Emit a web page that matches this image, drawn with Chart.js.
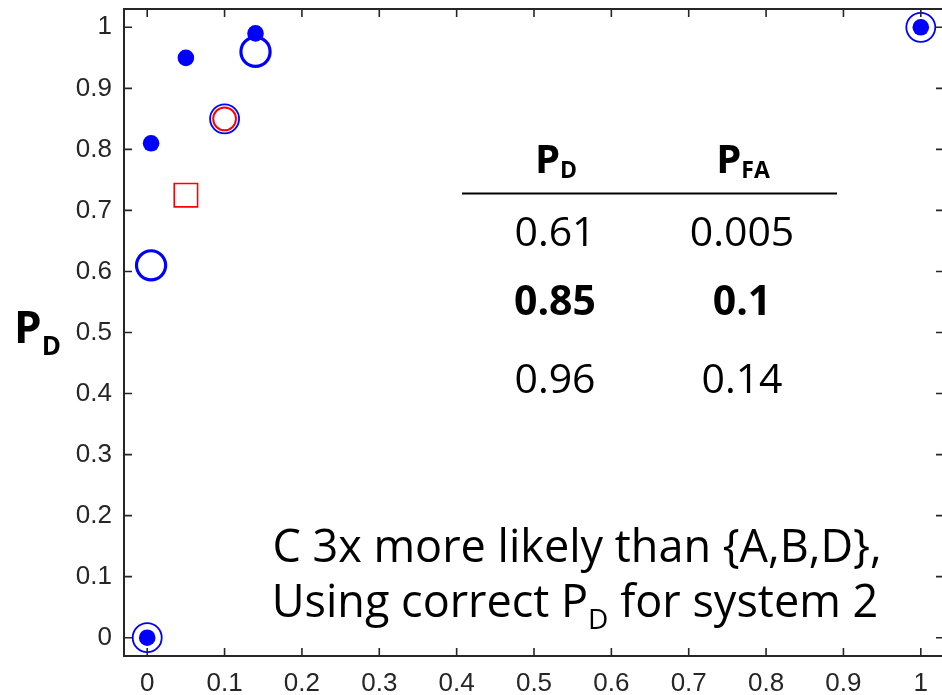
<!DOCTYPE html>
<html>
<head>
<meta charset="utf-8">
<script src="https://cdn.jsdelivr.net/npm/chart.js@4.4.1/dist/chart.umd.min.js"></script>
<style>
  html, body { margin: 0; padding: 0; background: #fff; overflow: hidden; }
  #wrap { width: 942px; height: 695px; overflow: hidden; }
</style>
</head>
<body>
<div id="wrap"><canvas id="roc" width="946" height="695"></canvas></div>
<script>
// detector operating points, x = P_FA, y = P_D
var dotPfa = [0, 0.005, 0.05, 0.14, 1];
var dotPd  = [0, 0.81, 0.95, 0.99, 1];

// system 2 points listed in the table (bold row is the chosen one)
var tablePd   = [0.61, 0.85, 0.96];
var tablePfa  = [0.005, 0.1, 0.14];
var tableBold = [false, true, false];

var squarePfa = [0.05];
var squarePd  = [0.725];

var tickValues = [0, 0.1, 0.2, 0.3, 0.4, 0.5, 0.6, 0.7, 0.8, 0.9, 1];
var tickLabels = ['0', '0.1', '0.2', '0.3', '0.4', '0.5', '0.6', '0.7', '0.8', '0.9', '1'];

var BLUE = '#0000ff';
var RED = '#ff0000';
var AXIS = '#262626';

function pts(xs, ys) {
  return xs.map(function(x, i) { return { x: x, y: ys[i] }; });
}

function pick(arr, idx) {
  return idx.map(function(i) { return arr[i]; });
}

var datasets = [
  { // thin rings around the end points and the chosen point
    data: pts([0, tablePfa[1], 1], [0, tablePd[1], 1]),
    pointStyle: 'circle', pointRadius: 14.5, pointBorderWidth: 1.8,
    pointBorderColor: BLUE, pointBackgroundColor: 'rgba(0,0,0,0)'
  },
  { // thick rings
    data: pts(pick(tablePfa, [0, 2]), pick(tablePd, [0, 2])),
    pointStyle: 'circle', pointRadius: 14.6, pointBorderWidth: 3.2,
    pointBorderColor: BLUE, pointBackgroundColor: 'rgba(0,0,0,0)'
  },
  {
    data: pts([tablePfa[1]], [tablePd[1]]),
    pointStyle: 'circle', pointRadius: 11.4, pointBorderWidth: 2,
    pointBorderColor: RED, pointBackgroundColor: 'rgba(0,0,0,0)'
  },
  {
    data: pts(squarePfa, squarePd),
    pointStyle: 'rect', pointRadius: 16.5, pointBorderWidth: 1.6,
    pointBorderColor: RED, pointBackgroundColor: 'rgba(0,0,0,0)'
  },
  {
    data: pts(dotPfa, dotPd),
    pointStyle: 'circle', pointRadius: 8.3, pointBorderWidth: 0,
    pointBorderColor: BLUE, pointBackgroundColor: BLUE
  }
];
datasets.forEach(function(d) { d.showLine = false; d.clip = false; });

// box around the plot with inward ticks on all four sides
var boxPlugin = {
  id: 'box',
  afterDraw: function(chart) {
    var ctx = chart.ctx, a = chart.chartArea;
    var xs = chart.scales.x, ys = chart.scales.y;
    var len = 8;
    ctx.save();
    ctx.strokeStyle = AXIS;
    ctx.lineWidth = 1.6;
    ctx.beginPath();
    tickValues.forEach(function(v) {
      var px = xs.getPixelForValue(v);
      ctx.moveTo(px, a.bottom); ctx.lineTo(px, a.bottom - len);
      ctx.moveTo(px, a.top); ctx.lineTo(px, a.top + len);
      var py = ys.getPixelForValue(v);
      ctx.moveTo(a.left, py); ctx.lineTo(a.left + len, py);
      ctx.moveTo(a.right, py); ctx.lineTo(a.right - len, py);
    });
    ctx.stroke();
    ctx.lineWidth = 2;
    ctx.strokeRect(a.left, a.top, a.right - a.left, a.bottom - a.top);
    ctx.restore();
  }
};

// text with a subscript; align = 'left' or 'center'
function drawSub(ctx, x, y, parts, align) {
  var w = 0;
  parts.forEach(function(p) { ctx.font = p.font; p.w = ctx.measureText(p.text).width; w += p.w; });
  var cx = align === 'center' ? x - w / 2 : x;
  ctx.textAlign = 'left';
  ctx.textBaseline = 'alphabetic';
  parts.forEach(function(p) {
    ctx.font = p.font;
    ctx.fillText(p.text, cx, y + (p.drop || 0));
    cx += p.w;
  });
}

var textPlugin = {
  id: 'notes',
  afterDraw: function(chart) {
    var ctx = chart.ctx;
    var F = '"Open Sans", sans-serif';
    ctx.save();
    ctx.fillStyle = '#000';

    // y axis title
    drawSub(ctx, 14, 343, [
      { text: 'P', font: 'bold 44px ' + F },
      { text: 'D', font: 'bold 26px ' + F, drop: 12 }
    ], 'left');

    // table header
    drawSub(ctx, 556, 173, [
      { text: 'P', font: 'bold 40px ' + F },
      { text: 'D', font: 'bold 23px ' + F, drop: 5 }
    ], 'center');
    drawSub(ctx, 743, 173, [
      { text: 'P', font: 'bold 40px ' + F },
      { text: 'FA', font: 'bold 23px ' + F, drop: 5 }
    ], 'center');

    ctx.strokeStyle = '#000';
    ctx.lineWidth = 2;
    ctx.beginPath();
    ctx.moveTo(462, 193.5);
    ctx.lineTo(837, 193.5);
    ctx.stroke();

    var rowY = [246, 315, 393];
    ctx.textAlign = 'center';
    ctx.textBaseline = 'alphabetic';
    tablePd.forEach(function(v, i) {
      ctx.font = (tableBold[i] ? 'bold ' : '') + '41px ' + F;
      ctx.fillText(String(v), 555, rowY[i]);
      ctx.fillText(String(tablePfa[i]), 742, rowY[i]);
    });

    // note in the lower right
    ctx.font = '45px ' + F;
    ctx.fillText('C 3x more likely than {A,B,D},', 577, 562);
    drawSub(ctx, 575, 617, [
      { text: 'Using correct P', font: '45px ' + F },
      { text: 'D', font: '28px ' + F, drop: 12 },
      { text: ' for system 2', font: '45px ' + F }
    ], 'center');

    ctx.restore();
  }
};

var tickFont = { family: 'Arial, "Liberation Sans", sans-serif', size: 26 };

function fixTicks(s) {
  s.ticks = tickValues.map(function(v) { return { value: v }; });
}

function noPad(s) {
  s.paddingTop = s.paddingBottom = s.paddingLeft = s.paddingRight = 0;
}

new Chart(document.getElementById('roc').getContext('2d'), {
  type: 'scatter',
  data: { datasets: datasets },
  options: {
    responsive: false,
    animation: false,
    events: [],
    layout: { autoPadding: false, padding: { top: 9, right: 2, left: 0, bottom: 0 } },
    plugins: { legend: { display: false }, tooltip: { enabled: false } },
    scales: {
      x: {
        type: 'linear', min: -0.03, max: 1.03,
        afterBuildTicks: fixTicks,
        afterFit: function(s) { s.height = 39; noPad(s); },
        grid: { display: false, drawTicks: false },
        border: { display: false },
        ticks: {
          callback: function(v, i) { return tickLabels[i]; },
          font: tickFont, color: AXIS, padding: 12,
          maxRotation: 0, autoSkip: false
        }
      },
      y: {
        type: 'linear', min: -0.03, max: 1.03,
        afterBuildTicks: fixTicks,
        afterFit: function(s) { s.width = 124; noPad(s); },
        grid: { display: false, drawTicks: false },
        border: { display: false },
        ticks: {
          callback: function(v, i) { return tickLabels[i]; },
          font: tickFont, color: AXIS, padding: 12,
          autoSkip: false
        }
      }
    }
  },
  plugins: [boxPlugin, textPlugin]
});
</script>
</body>
</html>
